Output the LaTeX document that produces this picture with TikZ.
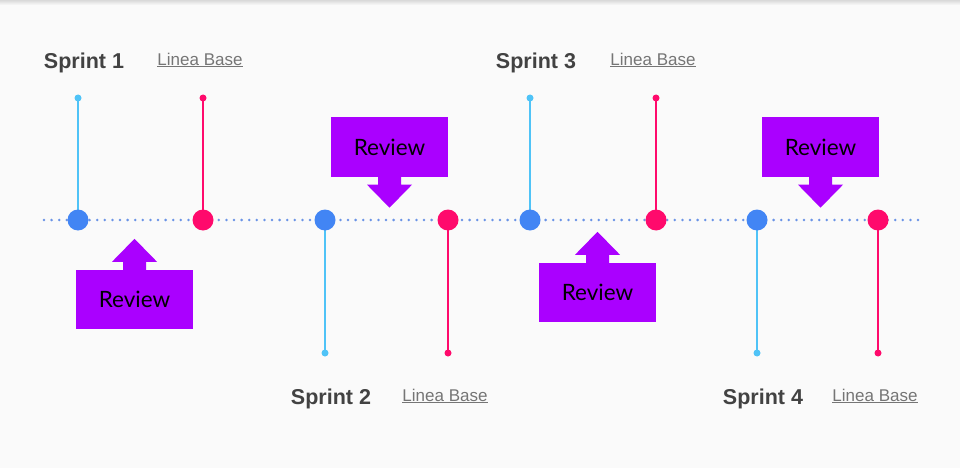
\documentclass[tikz,border=0pt]{standalone}
\usepackage{fontspec}
\setmainfont{Liberation Sans}
\newfontfamily\revfont{Lato}
\usetikzlibrary{positioning,calc}

\definecolor{bgcol}{HTML}{FAFAFA}
\definecolor{sprblue}{HTML}{4285F4}
\definecolor{linblue}{HTML}{4FC3F7}
\definecolor{basepink}{HTML}{FF0A6C}
\definecolor{revpurple}{HTML}{AA00FF}
\definecolor{dotblue}{HTML}{6A93E6}
\definecolor{titlegray}{HTML}{424242}
\definecolor{basegray}{HTML}{757575}

\tikzset{
  bigdot/.style={circle, minimum size=21pt, inner sep=0pt},
  tipdot/.style={circle, minimum size=7pt, inner sep=0pt},
  sprintlabel/.style={font=\bfseries\fontsize{21.5}{24}\selectfont, text=titlegray},
  baselabel/.style={font=\fontsize{17}{20}\selectfont, text=basegray},
  reviewbox/.style={fill=revpurple, minimum width=117pt, minimum height=59pt,
    inner sep=0pt, font=\revfont\fontsize{22.5}{26}\selectfont},
}

\begin{document}
\begin{tikzpicture}[x=1pt, y=-1pt]
    % Background and top shadow
    \fill[bgcol] (0,0) rectangle (960,468);
    \useasboundingbox (0,0) rectangle (960,468);
    \shade[top color=black!15, bottom color=bgcol] (0,0) rectangle (960,5);

    % Timeline
    \coordinate (tlstart) at (44,220);
    \coordinate (tlend) at (918,220);
    \draw[dotblue, line width=2.8pt, line cap=round, dash pattern=on 0pt off 7.6pt] (tlstart) -- (tlend);

    % Sprints: blue start, pink baseline
    \foreach \i/\bx/\px/\ty/\ly/\pos in {1/78/203/98/62/above, 2/325/448/353/398/below,
                                       3/530/656/98/62/above, 4/757/878/353/398/below}{
        \node[tipdot, fill=linblue] (bt\i) at (\bx,\ty) {};
        \node[tipdot, fill=basepink] (pt\i) at (\px,\ty) {};
        \node[bigdot] (b\i) at (\bx,220) {};
        \node[bigdot] (p\i) at (\px,220) {};
        \draw[linblue, line width=2pt] (bt\i.center) -- (b\i.center);
        \draw[basepink, line width=2pt] (pt\i.center) -- (p\i.center);
        \node[bigdot, fill=sprblue] at (b\i) {};
        \node[bigdot, fill=basepink] at (p\i) {};
        \node[sprintlabel] (s\i) at (\bx+6,\ly+1) {Sprint \i};
        \node[baselabel] (lb\i) at (\px-3,\ly-2) {\underline{Linea Base}};
    }

    % Review boxes with arrows
    \foreach \j/\rx/\ry/\anc/\s in {1/134.5/299.5/north/-1, 2/389.5/147/south/1,
                                    3/597.5/292.5/north/-1, 4/820.5/147/south/1}{
        \node[reviewbox] (r\j) at (\rx,\ry) {Review};
        \fill[revpurple] ($(r\j.\anc)+(-11.5,0)$) -- ++(0,\s*8) -- ++(-11,0)
            -- ++(22.5,\s*23) -- ++(22.5,-23*\s) -- ++(-11,0) -- ++(0,-8*\s) -- cycle;
    }
\end{tikzpicture}
\end{document}
